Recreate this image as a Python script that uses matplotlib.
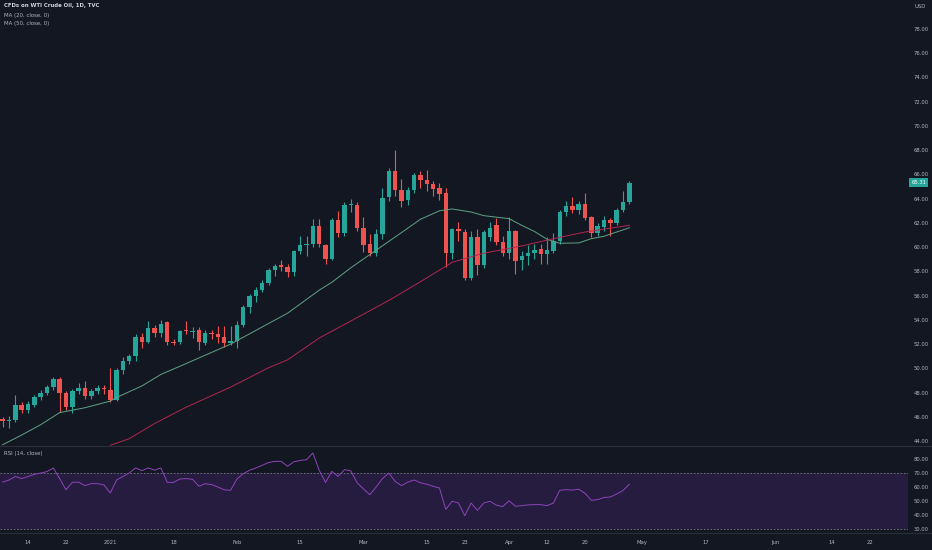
import pandas as pd
import numpy as np
import matplotlib
matplotlib.use('Agg')
import matplotlib.pyplot as plt
import matplotlib.transforms as mtransforms


# daily candles, Dec 8 2020 -> Apr 29 2021
holidays = ['2020-12-25', '2021-01-01', '2021-04-02']

opens = [45.80, 45.62, 45.70, 47.00, 46.60, 47.00, 47.65, 47.95, 48.45, 49.10,
         47.95, 46.80, 48.10, 48.40, 47.75, 48.10, 48.40, 48.20, 47.40, 49.85,
         50.60, 51.00, 52.60, 52.20, 53.30, 52.90, 53.80, 52.20, 52.15, 53.20,
         53.00, 53.15, 52.10, 52.95, 52.80, 52.60, 52.10, 52.25, 53.55, 55.10,
         55.97, 56.50, 57.07, 58.10, 58.50, 58.40, 57.94, 59.67, 60.14, 60.22,
         61.73, 60.14, 59.00, 62.20, 61.18, 63.45, 63.49, 61.60, 60.27, 59.48,
         61.10, 64.15, 66.31, 64.75, 63.87, 64.75, 65.98, 65.57, 65.24, 64.90,
         64.45, 59.54, 61.46, 61.29, 57.42, 60.86, 58.50, 60.86, 61.81, 60.41,
         59.48, 61.32, 58.93, 59.26, 59.54, 59.87, 59.40, 59.67, 60.50, 62.88,
         63.38, 63.10, 63.57, 62.47, 61.13, 61.68, 62.20, 62.00, 63.10, 63.74]
highs = [46.00, 46.10, 47.80, 47.25, 47.30, 47.80, 48.20, 48.60, 49.30, 49.30,
         48.10, 48.30, 48.80, 48.95, 48.30, 48.60, 48.60, 50.00, 50.00, 50.90,
         51.20, 52.80, 52.90, 53.90, 53.60, 54.00, 53.90, 52.40, 53.20, 53.90,
         53.40, 53.40, 53.20, 53.20, 53.50, 53.50, 53.50, 53.90, 55.20, 56.10,
         56.70, 57.30, 58.30, 58.60, 58.90, 58.60, 59.80, 60.90, 60.95, 62.30,
         62.30, 60.30, 62.40, 63.00, 63.70, 64.00, 63.70, 62.50, 61.10, 61.50,
         64.90, 66.50, 68.04, 65.60, 65.00, 66.10, 66.30, 66.40, 65.50, 65.30,
         64.90, 61.60, 62.10, 61.50, 61.30, 61.50, 61.40, 62.10, 62.40, 60.90,
         62.50, 61.40, 59.70, 60.20, 60.30, 60.30, 60.80, 61.20, 63.10, 63.80,
         64.10, 63.80, 64.48, 62.60, 62.00, 62.60, 62.40, 63.20, 64.60, 65.50]
lows = [45.20, 45.10, 45.60, 46.30, 46.30, 46.80, 47.40, 47.80, 48.20, 46.40,
        46.60, 46.30, 47.90, 47.50, 47.50, 47.90, 47.90, 47.20, 47.30, 49.50,
        50.40, 50.60, 51.65, 52.10, 52.60, 52.60, 51.90, 51.90, 52.00, 52.80,
        52.50, 51.50, 51.90, 52.40, 52.10, 51.80, 51.90, 51.70, 53.40, 54.60,
        55.50, 56.30, 56.90, 57.60, 58.00, 57.50, 57.60, 59.40, 59.30, 60.00,
        60.00, 58.60, 58.90, 60.80, 60.90, 62.90, 61.30, 59.60, 59.30, 59.30,
        60.70, 63.80, 64.20, 63.30, 63.50, 64.50, 64.90, 64.60, 64.20, 63.90,
        58.40, 59.00, 60.50, 57.30, 57.30, 57.70, 58.30, 60.50, 60.20, 59.30,
        59.00, 57.80, 58.10, 58.50, 59.00, 58.60, 58.60, 59.50, 60.30, 62.60,
        62.80, 62.70, 62.20, 60.80, 60.90, 61.30, 60.90, 61.80, 62.90, 63.60]
closes = [45.62, 45.75, 47.00, 46.60, 47.05, 47.65, 47.95, 48.45, 49.10, 47.95,
          46.80, 48.10, 48.40, 47.70, 48.10, 48.40, 48.30, 47.40, 49.85, 50.60,
          51.00, 52.60, 52.20, 53.30, 52.90, 53.70, 52.20, 52.10, 53.05, 53.05,
          53.10, 52.15, 52.90, 52.80, 52.60, 52.10, 52.25, 53.55, 55.10, 55.97,
          56.50, 57.07, 58.10, 58.44, 58.40, 57.94, 59.67, 60.14, 60.22, 61.73,
          60.30, 59.00, 62.20, 61.18, 63.49, 63.52, 61.54, 60.20, 59.48, 61.10,
          64.06, 66.31, 64.69, 63.79, 64.75, 65.93, 65.57, 65.24, 64.83, 64.42,
          59.54, 61.46, 61.30, 57.42, 60.86, 58.50, 61.24, 61.62, 60.41, 59.48,
          61.32, 58.85, 59.26, 59.54, 59.80, 59.46, 59.73, 60.50, 62.88, 63.38,
          63.10, 63.57, 62.42, 61.13, 61.73, 62.20, 62.00, 63.10, 63.74, 65.31]

rsi = [63.5, 65.0, 67.5, 66.0, 67.5, 69.0, 70.0, 71.0, 73.6, 66.0,
       58.0, 63.3, 63.5, 61.0, 62.4, 62.4, 61.5, 55.7, 65.0, 67.5,
       70.0, 73.6, 71.7, 73.6, 72.0, 73.6, 63.3, 63.3, 65.7, 66.0,
       65.5, 60.5, 62.4, 61.7, 60.0, 58.0, 57.6, 65.7, 69.5, 72.0,
       73.6, 75.5, 77.5, 78.3, 78.3, 74.8, 78.0, 79.0, 79.5, 84.3,
       72.0, 63.3, 71.2, 67.6, 72.4, 71.5, 63.0, 58.6, 54.5, 60.0,
       66.0, 70.0, 64.0, 61.0, 63.5, 65.0, 63.0, 62.0, 60.5, 59.3,
       44.0, 49.8, 48.6, 39.5, 48.6, 43.3, 48.6, 49.8, 47.0, 46.0,
       50.2, 46.2, 46.7, 47.2, 47.4, 47.4, 46.7, 48.5, 57.6, 58.1,
       57.8, 58.4, 55.5, 50.5, 51.0, 52.5, 52.9, 55.0, 57.5, 62.0]

# moving averages, sampled along the drawn lines
ma20_dates = ['2020-12-08', '2020-12-11', '2020-12-16', '2020-12-21', '2020-12-28',
              '2021-01-04', '2021-01-05', '2021-01-11', '2021-01-14', '2021-01-20',
              '2021-01-29', '2021-02-11', '2021-02-18', '2021-02-22', '2021-02-25',
              '2021-03-03', '2021-03-09', '2021-03-12', '2021-03-17', '2021-03-19',
              '2021-03-24', '2021-03-26', '2021-04-01', '2021-04-06', '2021-04-08',
              '2021-04-12', '2021-04-14', '2021-04-19', '2021-04-21', '2021-04-23',
              '2021-04-27', '2021-04-29']
ma20_vals = [43.7, 44.5, 45.35, 46.35, 46.75, 47.3, 47.6, 48.55, 49.5, 50.4,
             52.0, 54.55, 56.45, 57.1, 58.3, 59.75, 61.2, 62.3, 63.0, 63.15,
             62.9, 62.6, 62.35, 61.8, 61.3, 60.65, 60.32, 60.35, 60.7, 60.9,
             61.25, 61.6]
ma50_dates = ['2021-01-04', '2021-01-07', '2021-01-13', '2021-01-20', '2021-01-29',
              '2021-02-08', '2021-02-11', '2021-02-18', '2021-03-05', '2021-03-12',
              '2021-03-17', '2021-03-19', '2021-03-26', '2021-04-06', '2021-04-13',
              '2021-04-20', '2021-04-29']
ma50_vals = [43.65, 44.2, 45.45, 46.8, 48.45, 50.05, 50.7, 52.5, 55.6, 57.15,
             58.1, 58.75, 59.5, 60.1, 60.7, 61.25, 61.8]

tick_dates = ['2020-12-14', '2020-12-22', '2021-01-04', '2021-01-18', '2021-02-01',
              '2021-02-15', '2021-03-01', '2021-03-15', '2021-03-23', '2021-04-01',
              '2021-04-12', '2021-04-20', '2021-05-03', '2021-05-17', '2021-06-01',
              '2021-06-14', '2021-06-22']
tick_labels = ['14', '22', '2021', '18', 'Feb', '15', 'Mar', '15', '23', 'Apr',
               '12', '20', 'May', '17', 'Jun', '14', '22']

last_price = 65.31

# colours
bg = '#131722'
up_col = '#26a69a'
down_col = '#ef5350'
txt_col = '#b2b5be'
line_col = '#2a2e39'

# bar positions (trading days, weekends and holidays skipped)
days = pd.bdate_range('2020-12-08', '2021-06-30')
days = days[~days.isin(pd.to_datetime(holidays))]
pos = {d.strftime('%Y-%m-%d'): i for i, d in enumerate(days)}
n = len(closes)
x = np.arange(n)

plt.rcParams['font.family'] = 'DejaVu Sans'
fig = plt.figure(figsize=(9.32, 5.5), dpi=100, facecolor=bg)
ax = fig.add_axes([0, 104 / 550, 908 / 932, 446 / 550], facecolor=bg)
ax_rsi = fig.add_axes([0, 17 / 550, 908 / 932, 87 / 550], facecolor=bg, sharex=ax)

# candles
o = np.array(opens)
c = np.array(closes)
cols = [up_col if cc >= oo else down_col for oo, cc in zip(o, c)]
ax.vlines(x, lows, highs, colors=cols, linewidth=0.8)
body = np.maximum(np.abs(c - o), 0.06)
ax.bar(x, body, bottom=np.minimum(o, c), width=0.7, color=cols, linewidth=0)

# moving averages
ax.plot([pos[d] for d in ma20_dates], ma20_vals, color='#5fa383', linewidth=0.7)
ax.plot([pos[d] for d in ma50_dates], ma50_vals, color='#b3264f', linewidth=0.7)

px_per_bar = 6.33
x_left = 4 - 28 / px_per_bar
x_right = 4 + 880 / px_per_bar
ax.set_xlim(x_left, x_right)
ax.set_ylim(78 - 417 / 12.12, 78 + 29 / 12.12)

ax.yaxis.tick_right()
ax.set_yticks(np.arange(44, 79, 2))
ax.set_yticklabels(['%.2f' % v for v in np.arange(44, 79, 2)])
ax.tick_params(axis='y', length=0, pad=4, labelsize=3.8, labelcolor=txt_col)
ax.tick_params(axis='x', length=0, labelbottom=False)
for s in ax.spines.values():
    s.set_visible(False)

# last price tag
tag_tr = mtransforms.blended_transform_factory(ax.transAxes, ax.transData)
ax.text(1.0035, last_price, '%.2f' % last_price, transform=tag_tr, fontsize=3.8,
        color='white', va='center', ha='left',
        bbox=dict(boxstyle='square,pad=0.35', facecolor=up_col, edgecolor='none'))

# RSI pane
ax_rsi.axhspan(30, 70, color='#251c40', linewidth=0)
ax_rsi.axhline(70, color='#787b86', linewidth=0.6, linestyle=(0, (2, 2)))
ax_rsi.axhline(30, color='#787b86', linewidth=0.6, linestyle=(0, (2, 2)))
ax_rsi.plot(x, rsi, color='#8e44b8', linewidth=0.7)
ax_rsi.set_ylim(80 - 74 / 1.4, 80 + 13 / 1.4)
ax_rsi.yaxis.tick_right()
ax_rsi.set_yticks([30, 40, 50, 60, 70, 80])
ax_rsi.set_yticklabels(['30.00', '40.00', '50.00', '60.00', '70.00', '80.00'])
ax_rsi.tick_params(axis='y', length=0, pad=4, labelsize=3.8, labelcolor=txt_col)
ax_rsi.set_xticks([pos[d] for d in tick_dates])
ax_rsi.set_xticklabels(tick_labels)
ax_rsi.tick_params(axis='x', length=0, pad=5, labelsize=3.8, labelcolor=txt_col)
for s in ax_rsi.spines.values():
    s.set_visible(False)

# pane separators
fig.add_artist(plt.Line2D([0, 1], [104 / 550, 104 / 550], color=line_col, linewidth=0.8))
fig.add_artist(plt.Line2D([0, 1], [17 / 550, 17 / 550], color=line_col, linewidth=0.8))

# legend texts
fig.text(4 / 932, 1 - 6 / 550, 'CFDs on WTI Crude Oil, 1D, TVC', fontsize=3.9,
         color='#d1d4dc', fontweight='bold', va='center')
fig.text(4 / 932, 1 - 15 / 550, 'MA (20, close, 0)', fontsize=3.9, color=txt_col, va='center')
fig.text(4 / 932, 1 - 23 / 550, 'MA (50, close, 0)', fontsize=3.9, color=txt_col, va='center')
fig.text(4 / 932, 1 - 453 / 550, 'RSI (14, close)', fontsize=3.9, color=txt_col, va='center')
fig.text(920 / 932, 1 - 7 / 550, 'USD', fontsize=3.8, color=txt_col, va='center', ha='center')

fig.savefig('out.png', dpi=100, facecolor=bg)
